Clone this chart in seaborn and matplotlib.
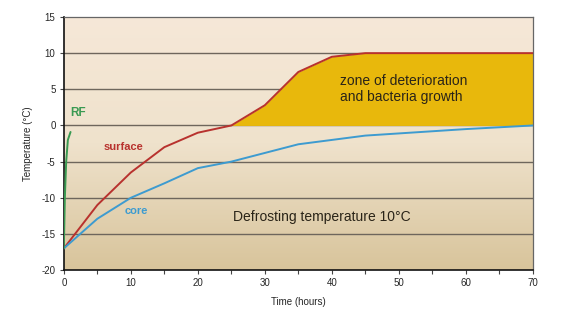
import numpy as np
import pandas as pd
import matplotlib
matplotlib.use("Agg")
import matplotlib.pyplot as plt
from matplotlib.colors import LinearSegmentedColormap
import seaborn as sns

# Temperature curves during defrosting (hours, °C)
surface_time = [0, 5, 10, 15, 20, 25, 30, 35, 40, 45, 70]
surface_temp = [-17, -11, -6.5, -3, -1, 0, 2.8, 7.4, 9.5, 10, 10]

core_time = [0, 5, 10, 15, 20, 25, 30, 35, 40, 45, 50, 60, 70]
core_temp = [-17, -12.9, -10, -8, -5.9, -5, -3.8, -2.6, -2, -1.4, -1.1, -0.5, 0]

rf_time = [0, 0.15, 0.35, 0.6, 1.0]
rf_temp = [-17, -10, -5, -2, -0.9]

x_ticks = [0, 10, 20, 30, 40, 50, 60, 70]
y_ticks = [-20, -15, -10, -5, 0, 5, 10, 15]

sns.set_style("ticks")
plt.rcParams["font.family"] = ["Liberation Sans", "DejaVu Sans"]
plt.rcParams["axes.unicode_minus"] = False

fig = plt.figure(figsize=(5.65, 3.27), dpi=100)
fig.patch.set_facecolor("white")
ax = fig.add_axes([0.113, 0.174, 0.83, 0.774])

# warm vertical gradient behind the plot
cmap = LinearSegmentedColormap.from_list("bg", ["#d8c49b", "#efe2cc", "#f6e8d8"])
grad = np.linspace(0, 1, 256).reshape(-1, 1)
ax.imshow(grad, extent=[0, 70, -20, 15], origin="lower", aspect="auto",
          cmap=cmap, zorder=0)

for y in y_ticks[1:-1]:
    ax.axhline(y, color="#6e665c", lw=1.0, zorder=1)

# zone where the surface has warmed above 0 °C
st = np.array(surface_time, dtype=float)
sv = np.array(surface_temp, dtype=float)
mask = st >= 25
ax.fill_between(st[mask], 0, sv[mask], color="#e8b80c", zorder=2, lw=0)

df = pd.concat([
    pd.DataFrame({"time": surface_time, "temp": surface_temp, "curve": "surface"}),
    pd.DataFrame({"time": core_time, "temp": core_temp, "curve": "core"}),
    pd.DataFrame({"time": rf_time, "temp": rf_temp, "curve": "RF"}),
])
palette = {"surface": "#b8322e", "core": "#3d9bd0", "RF": "#3a9a52"}
sns.lineplot(data=df, x="time", y="temp", hue="curve", palette=palette,
             sort=False, estimator=None, lw=1.4, legend=False, ax=ax, zorder=3)

ax.set_xlim(0, 70)
ax.set_ylim(-20, 15)
ax.set_xticks(x_ticks)
ax.set_xticks(range(5, 70, 10), minor=True)
ax.set_yticks(y_ticks)
ax.tick_params(axis="both", labelsize=7, length=3, width=0.8, color="#444444", pad=3)
ax.tick_params(axis="x", which="minor", length=3, width=0.8, color="#444444")
ax.set_xlabel("Time (hours)", fontsize=7, labelpad=6)
ax.set_ylabel("Temperature (°C)", fontsize=7, labelpad=6)

for side in ["left", "bottom"]:
    ax.spines[side].set_color("#111111")
    ax.spines[side].set_linewidth(1.2)
for side in ["top", "right"]:
    ax.spines[side].set_visible(True)
    ax.spines[side].set_color("#666666")
    ax.spines[side].set_linewidth(0.9)

ax.text(1.0, 1.3, "RF", color="#3a9a52", fontsize=8.5, fontweight="bold", zorder=4)
ax.text(6.0, -3.4, "surface", color="#b8322e", fontsize=8, fontweight="bold", zorder=4)
ax.text(9.0, -12.2, "core", color="#3d9bd0", fontsize=8, fontweight="bold", zorder=4)
ax.text(41.2, 5.0, "zone of deterioration\nand bacteria growth", color="#2a2418",
        fontsize=10, va="center", ha="left", linespacing=1.15, zorder=4)
ax.text(25.3, -12.6, "Defrosting temperature 10°C", color="#2a2418",
        fontsize=10, va="center", ha="left", zorder=4)

fig.savefig("out.png", dpi=100, facecolor=fig.get_facecolor())
